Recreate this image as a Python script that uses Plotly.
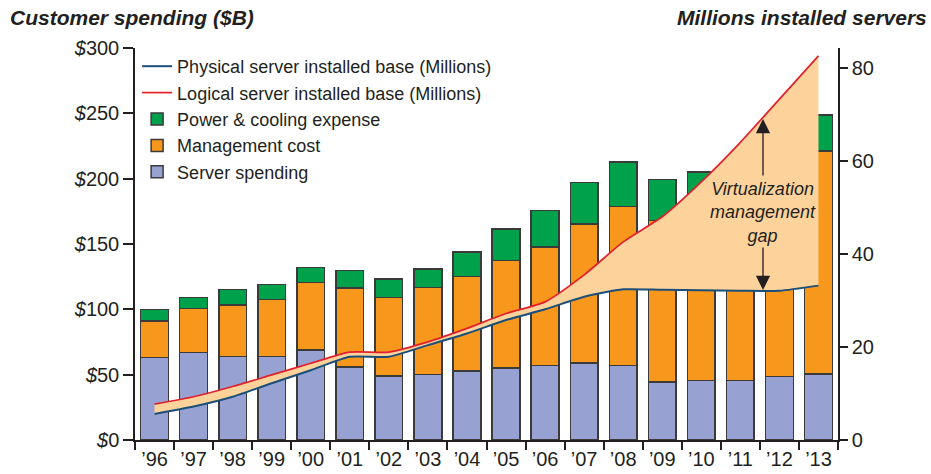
import plotly.graph_objects as go

years = ["’96", "’97", "’98", "’99", "’00", "’01", "’02", "’03", "’04",
         "’05", "’06", "’07", "’08", "’09", "’10", "’11", "’12", "’13"]
server_spending = [63, 67, 64, 64, 69, 56, 49, 50, 53, 55, 57, 59, 57, 44.5, 45.5, 45.5, 48.5, 50.5]
management_cost = [28, 33.7, 39.5, 43.6, 51.4, 60.3, 60, 66.8, 72, 82.2, 90.7, 106.5, 121.8, 123.5, 127.5, 137.5, 149.5, 170.8]
power_cooling = [9, 8.3, 11.5, 11.4, 11.6, 13.3, 14.4, 14.2, 19, 24.2, 27.8, 31.5, 33.9, 31.5, 32, 32, 32, 27.3]
physical_base = [5.6, 7.2, 9.3, 12.2, 15.0, 17.9, 17.9, 20.4, 22.9, 25.8, 28.1, 30.8, 32.4, 32.3, 32.2, 32.1, 32.1, 33.2]
logical_base = [7.7, 9.3, 11.5, 14.0, 16.5, 18.9, 18.9, 21.1, 24.0, 27.2, 29.7, 35.5, 42.6, 48.0, 55.5, 64.0, 73.3, 82.6]
left_ticks = [0, 50, 100, 150, 200, 250, 300]
right_ticks = [0, 20, 40, 60, 80]

FONT = "Liberation Sans, Arial, sans-serif"
TXT = "#231F20"
OUT = "#3A3A3A"

fig = go.Figure()
bar_kw = dict(width=0.71, marker_line=dict(color=OUT, width=1.5))
fig.add_bar(x=years, y=server_spending, name="Server spending",
            marker_color="#97A2D2", legendrank=5, **bar_kw)
fig.add_bar(x=years, y=management_cost, name="Management cost",
            marker_color="#F7981D", legendrank=4, **bar_kw)
fig.add_bar(x=years, y=power_cooling, name="Power &amp; cooling expense",
            marker_color="#00A14B", legendrank=3, **bar_kw)

spl = dict(shape="spline", smoothing=0.6)
fig.add_scatter(x=years, y=physical_base, yaxis="y2", mode="lines",
                line=dict(width=0, color="#FDD39B", **spl), showlegend=False, hoverinfo="skip")
fig.add_scatter(x=years, y=logical_base, yaxis="y2", mode="lines", fill="tonexty",
                fillcolor="#FDD39B", line=dict(width=0, color="#FDD39B", **spl),
                showlegend=False, hoverinfo="skip")
fig.add_scatter(x=years, y=physical_base, yaxis="y2", mode="lines",
                name="Physical server installed base (Millions)",
                line=dict(width=2, color="#1B4F7A", **spl), legendrank=1)
fig.add_scatter(x=years, y=logical_base, yaxis="y2", mode="lines",
                name="Logical server installed base (Millions)",
                line=dict(width=1.7, color="#E2202C", **spl), legendrank=2)

fig.update_layout(
    width=931, height=474,
    margin=dict(l=135, r=93, t=48, b=34),
    barmode="stack", bargap=0.29,
    paper_bgcolor="white", plot_bgcolor="white",
    font=dict(family=FONT, color=TXT, size=20),
    showlegend=True,
    legend=dict(x=0.003, y=1.0, xanchor="left", yanchor="top", traceorder="normal",
                bgcolor="rgba(0,0,0,0)", font=dict(size=18, color=TXT),
                tracegroupgap=0, itemwidth=30),
    xaxis=dict(type="category", range=[-0.5, 17.5], tickson="boundaries",
               ticks="outside", ticklen=8, tickwidth=1.5, tickcolor=TXT,
               showline=True, linecolor=TXT, linewidth=1.5, showgrid=False,
               automargin=False, tickfont=dict(size=20, color=TXT)),
    yaxis=dict(range=[0, 300], tickvals=left_ticks,
               ticktext=[f"<i>$</i>{v}" for v in left_ticks],
               ticks="outside", ticklen=10, tickwidth=1.5, tickcolor=TXT,
               showline=True, linecolor=TXT, linewidth=1.5, showgrid=False,
               automargin=False, zeroline=False, tickfont=dict(size=20, color=TXT)),
    yaxis2=dict(range=[0, 84.3], tickvals=right_ticks, overlaying="y", side="right",
                ticks="outside", ticklen=8, tickwidth=1.5, tickcolor=TXT,
                showline=True, linecolor=TXT, linewidth=1.5, showgrid=False,
                automargin=False, zeroline=False, tickfont=dict(size=20, color=TXT)),
)

fig.add_annotation(text="<b><i>Customer spending ($B)</i></b>", xref="paper", yref="paper",
                   x=(8 - 135) / 703, y=(440 - 17) / 392, xanchor="left", yanchor="middle",
                   showarrow=False, font=dict(size=21, color=TXT))
fig.add_annotation(text="<b><i>Millions installed servers</i></b>", xref="paper", yref="paper",
                   x=(929 - 135) / 703, y=(440 - 17) / 392, xanchor="right", yanchor="middle",
                   showarrow=False, font=dict(size=21, color=TXT))

gx = 15.58
fig.add_annotation(text="<i>Virtualization<br>management<br>gap</i>", x=gx, y=(440 - 212) / 4.65,
                   yref="y2", showarrow=False, font=dict(size=18, color=TXT), align="center")
fig.add_annotation(text="", x=gx, y=(440 - 119) / 4.65, yref="y2", showarrow=True,
                   ax=0, ay=58, arrowhead=2, arrowsize=2.2, arrowwidth=1.3, arrowcolor=TXT)
fig.add_annotation(text="", x=gx, y=(440 - 290) / 4.65, yref="y2", showarrow=True,
                   ax=0, ay=-44, arrowhead=2, arrowsize=2.2, arrowwidth=1.3, arrowcolor=TXT)

fig.write_html("out.html", config={"displayModeBar": False},
               post_script="document.body.style.margin='0';")
